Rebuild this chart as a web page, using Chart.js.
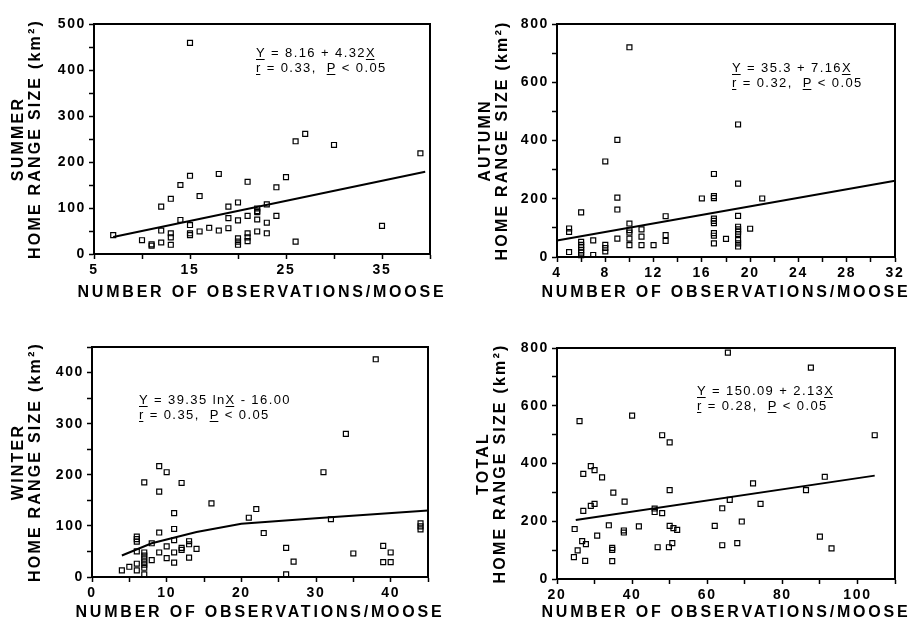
<!DOCTYPE html>
<html><head><meta charset="utf-8">
<script src="https://cdn.jsdelivr.net/npm/chart.js@4.4.1/dist/chart.umd.min.js"></script>
<style>
html,body{margin:0;padding:0;background:#fff;width:911px;height:623px;overflow:hidden;}
canvas{position:absolute;}
</style></head><body>
<canvas id="c1" width="445" height="305" style="left:0;top:0;width:445px;height:305px"></canvas>
<canvas id="c2" width="466" height="305" style="left:445px;top:0;width:466px;height:305px"></canvas>
<canvas id="c3" width="445" height="318" style="left:0;top:305px;width:445px;height:318px"></canvas>
<canvas id="c4" width="466" height="318" style="left:445px;top:305px;width:466px;height:318px"></canvas>
<script>
// ---------------- DATA ----------------
const summerX = [15,7,10,11,11,12,12,12,13,13,13,13,14,14,15,15,15,15,16,16,17,18,18,19,19,19,20,20,20,20,20,21,21,21,21,21,22,22,22,22,22,23,23,23,24,24,25,26,26,27,30,35,39];
const summerY = [459,41,30,18,21,103,51,25,120,45,36,20,150,74,170,63,41,45,126,49,57,174,51,103,78,56,112,73,34,27,20,157,83,45,36,28,99,93,91,75,49,108,68,45,145,83,167,245,27,261,237,61,219];
const summerFitX = [7,39.5];
const summerFitY = [37,179];

const autumnX = [10,9,8,9,9,6,5,5,5,6,6,6,6,6,6,7,7,8,8,8,9,10,10,10,10,10,11,11,11,12,13,13,13,16,17,17,17,17,17,17,17,17,17,18,19,19,19,19,19,19,19,19,19,19,20,21];
const autumnY = [720,402,328,204,163,153,98,86,17,52,42,33,24,15,6,57,7,42,31,19,63,115,92,84,63,41,95,70,41,41,140,75,55,201,285,209,202,132,124,116,82,73,47,62,455,252,141,104,95,87,79,58,47,36,97,201];
const autumnFitX = [4,32];
const autumnFitY = [57,262];

const winterX = [38,34,31,9,10,7,12,9,16,22,21,11,32,11,9,23,6,6,6,8,11,13,13,12,12,6,10,9,11,14,7,7,7,7,7,7,8,10,13,11,6,5,6,4,7,26,27,26,35,39,40,39,40,44,44,44];
const winterY = [426,280,205,217,205,185,184,167,144,133,116,125,113,94,87,86,79,74,69,66,72,70,64,57,53,50,60,48,48,55,48,42,36,30,24,18,33,37,38,28,26,20,13,13,5,57,30,5,46,61,48,29,29,105,99,93];
const winterFitX = [4,8,14,20,30,45];
const winterFitY = [42,66,88,104,115,130];

const totalX = [65.5,87.6,40,26,48,50,104.6,29,30,27,32,91.3,72.2,35,50,86.3,38,66,74.2,30,29,27,46,46,64,48,69.2,24.7,33.8,41.8,37.8,37.8,50,51,52,62,30.7,26.7,27.7,34.7,34.7,46.8,49.8,50.7,64,68,90,93.1,25.5,24.5,27.5,34.7];
const totalY = [784,732,566,547,498,473,498,391,377,364,352,354,331,299,308,308,268,274,260,260,253,236,244,232,245,228,199,173,186,182,168,161,184,176,170,184,150,131,121,108,101,110,110,124,117,124,147,106,99,76,63,62];
const totalFitX = [25,104.6];
const totalFitY = [204,358];

const summerXLabels = [5,15,25,35];
const summerYLabels = [0,100,200,300,400,500];
const autumnXLabels = [4,8,12,16,20,24,28,32];
const autumnYLabels = [0,200,400,600,800];
const winterXLabels = [0,10,20,30,40];
const winterYLabels = [0,100,200,300,400];
const totalXLabels = [20,40,60,80,100];
const totalYLabels = [0,200,400,600,800];

const xTitle = 'NUMBER OF OBSERVATIONS/MOOSE';
const summerTitle = ['SUMMER','HOME RANGE SIZE (km²)'];
const autumnTitle = ['AUTUMN','HOME RANGE SIZE (km²)'];
const winterTitle = ['WINTER','HOME RANGE SIZE (km²)'];
const totalTitle = ['TOTAL','HOME RANGE SIZE (km²)'];

const summerEq = ['Y = 8.16 + 4.32X','r = 0.33,  P < 0.05'];
const autumnEq = ['Y = 35.3 + 7.16X','r = 0.32,  P < 0.05'];
const winterEq = ['Y = 39.35 lnX - 16.00','r = 0.35,  P < 0.05'];
const totalEq = ['Y = 150.09 + 2.13X','r = 0.28,  P < 0.05'];

// ---------------- RENDERING ----------------
const FONT = '"Liberation Sans", Arial, Helvetica, sans-serif';
Chart.defaults.font.family = FONT;
Chart.defaults.color = '#000';
const pts = (xs, ys) => xs.map((x, i) => ({x: x, y: ys[i]}));

const spacingPlugin = {
  id: 'spacing',
  afterLayout(chart) {
    Object.values(chart.scales).forEach(s => {
      if (s.__wrapped) return;
      s.__wrapped = true;
      const dt = s.drawTitle.bind(s), dl = s.drawLabels.bind(s);
      s.drawTitle = function () {
        const c = this.ctx; c.save();
        if (this.axis === 'x') {
          c.letterSpacing = '2.8px';
          const L = this.left, R = this.right;
          this.left = L - 60; this.right = R + 60;
          dt();
          this.left = L; this.right = R;
        } else {
          c.letterSpacing = '2.2px';
          dt();
        }
        c.restore();
      };
      s.drawLabels = function (ca) {
        const c = this.ctx; c.save();
        c.letterSpacing = '1.6px';
        dl(ca);
        c.restore();
      };
    });
  }
};

const boxPlugin = {
  id: 'box',
  afterDatasetsDraw(chart) {
    const {ctx, chartArea: a} = chart;
    ctx.save();
    ctx.strokeStyle = '#000'; ctx.lineWidth = 2;
    ctx.strokeRect(a.left, a.top, a.right - a.left, a.bottom - a.top);
    ctx.restore();
  }
};

function eqPlugin(lines, dx, dy, gap) {
  return {
    id: 'eq',
    afterDraw(chart) {
      const {ctx, chartArea: a} = chart;
      ctx.save();
      ctx.font = '13px ' + FONT;
      ctx.letterSpacing = '1.4px';
      ctx.fillStyle = '#000'; ctx.strokeStyle = '#000'; ctx.lineWidth = 1;
      ctx.textBaseline = 'middle'; ctx.textAlign = 'left';
      lines.forEach((line, i) => {
        const x = a.left + dx, y = a.top + dy + i * gap;
        ctx.fillText(line, x, y);
        for (let k = 0; k < line.length; k++) {
          if ('YXrP'.includes(line[k])) {
            const x0 = x + ctx.measureText(line.slice(0, k)).width;
            const w = ctx.measureText(line[k]).width - 1.4;
            ctx.beginPath(); ctx.moveTo(x0, y + 6.5); ctx.lineTo(x0 + w, y + 6.5); ctx.stroke();
          }
        }
      });
      ctx.restore();
    }
  };
}

const gridOpts = {display: true, drawOnChartArea: false, drawTicks: true, tickLength: 5, tickWidth: 1.5, tickColor: '#000'};
const borderOpts = {display: true, color: '#000', width: 2};

function xScale(min, max, step, labels, fitH, titlePad) {
  return {
    type: 'linear', position: 'bottom', min: min, max: max,
    ticks: {stepSize: step, autoSkip: false, maxRotation: 0, minRotation: 0, padding: 3, color: '#000',
      font: {family: FONT, size: 14, weight: 'bold'}, callback: v => labels.includes(v) ? String(v) : ''},
    grid: gridOpts, border: borderOpts,
    title: {display: true, text: xTitle, color: '#000',
      font: {family: FONT, size: 16, weight: 'bold', lineHeight: 1}, padding: {top: 0, bottom: titlePad}},
    afterFit(s) { s.height = fitH; }
  };
}
function yScale(min, max, step, labels, title, fitW, titlePad) {
  return {
    type: 'linear', position: 'left', min: min, max: max,
    ticks: {stepSize: step, autoSkip: false, padding: 3, color: '#000',
      font: {family: FONT, size: 14, weight: 'bold'}, callback: v => labels.includes(v) ? String(v) : ''},
    grid: gridOpts, border: borderOpts,
    title: {display: true, text: title, color: '#000',
      font: {family: FONT, size: 16, weight: 'bold', lineHeight: 17 / 16}, padding: {top: titlePad, bottom: 0}},
    afterFit(s) { s.width = fitW; }
  };
}

function makeChart(id, xs, ys, fx, fy, xsc, ysc, pad, eq) {
  return new Chart(document.getElementById(id), {
    type: 'scatter',
    data: {datasets: [
      {type: 'line', data: pts(fx, fy), borderColor: '#000', borderWidth: 2, pointRadius: 0, tension: 0, fill: false, clip: false},
      {type: 'scatter', data: pts(xs, ys), pointStyle: 'rect', pointRadius: 3.5, pointBorderWidth: 1.2,
        borderColor: '#000', backgroundColor: 'rgba(255,255,255,0)', clip: false}
    ]},
    options: {
      responsive: false, animation: false, events: [],
      layout: {padding: pad},
      plugins: {legend: {display: false}, tooltip: {enabled: false}},
      scales: {x: xsc, y: ysc}
    },
    plugins: [spacingPlugin, boxPlugin, eq]
  });
}

makeChart('c1', summerX, summerY, summerFitX, summerFitY,
  xScale(5, 40, 5, summerXLabels, 51, 4),
  yScale(0, 500, 50, summerYLabels, summerTitle, 94, 10.5),
  {top: 24, right: 15, left: 0, bottom: 0},
  eqPlugin(summerEq, 162, 29, 15));

makeChart('c2', autumnX, autumnY, autumnFitX, autumnFitY,
  xScale(4, 32, 2, autumnXLabels, 48, 4),
  yScale(0, 800, 100, autumnYLabels, autumnTitle, 112, 32.5),
  {top: 24, right: 16, left: 0, bottom: 0},
  eqPlugin(autumnEq, 175, 44, 15));

makeChart('c3', winterX, winterY, winterFitX, winterFitY,
  xScale(0, 45, 5, winterXLabels, 46, 2),
  yScale(0, 450, 50, winterYLabels, winterTitle, 92, 10.5),
  {top: 42, right: 17, left: 0, bottom: 0},
  eqPlugin(winterEq, 47, 53, 15));

makeChart('c4', totalX, totalY, totalFitX, totalFitY,
  xScale(20, 110, 10, totalXLabels, 44, 2),
  yScale(0, 800, 100, totalYLabels, totalTitle, 112, 30),
  {top: 43, right: 16, left: 0, bottom: 0},
  eqPlugin(totalEq, 140, 43, 15));
</script>
</body></html>
